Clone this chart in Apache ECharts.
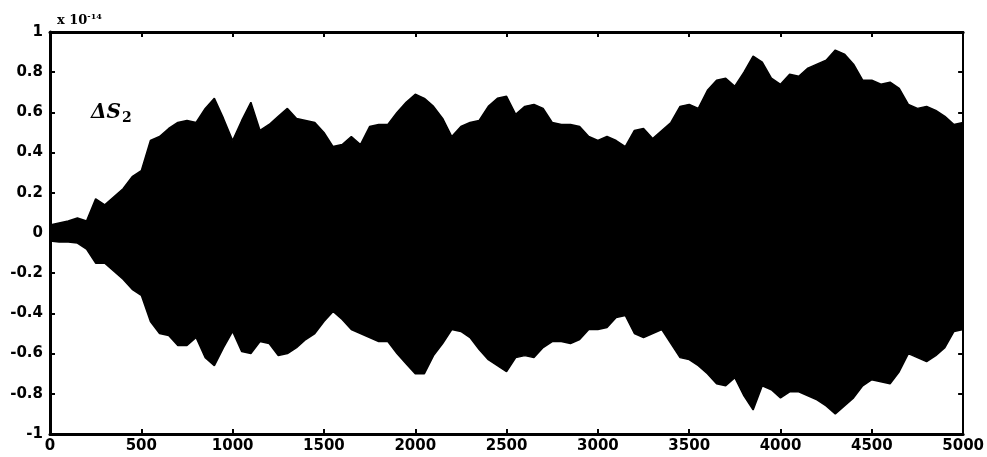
<!DOCTYPE html>
<html>
<head>
<meta charset="utf-8">
<script src="https://cdn.jsdelivr.net/npm/echarts@6/dist/echarts.min.js"></script>
<style>
  html, body { margin: 0; padding: 0; background: #fff; }
  #chart { width: 987px; height: 457px; }
</style>
</head>
<body>
<div id="chart"></div>
<script>
// Sample positions (step 50) along the horizontal axis
const steps = [
  0, 50, 100, 150, 200, 250, 300, 350, 400, 450,
  500, 550, 600, 650, 700, 750, 800, 850, 900, 950,
  1000, 1050, 1100, 1150, 1200, 1250, 1300, 1350, 1400, 1450,
  1500, 1550, 1600, 1650, 1700, 1750, 1800, 1850, 1900, 1950,
  2000, 2050, 2100, 2150, 2200, 2250, 2300, 2350, 2400, 2450,
  2500, 2550, 2600, 2650, 2700, 2750, 2800, 2850, 2900, 2950,
  3000, 3050, 3100, 3150, 3200, 3250, 3300, 3350, 3400, 3450,
  3500, 3550, 3600, 3650, 3700, 3750, 3800, 3850, 3900, 3950,
  4000, 4050, 4100, 4150, 4200, 4250, 4300, 4350, 4400, 4450,
  4500, 4550, 4600, 4650, 4700, 4750, 4800, 4850, 4900, 4950,
  5000
];

// Upper envelope of ΔS2 (units of 1e-14)
const upperEnvelope = [
  0.04, 0.05, 0.06, 0.075, 0.06, 0.17, 0.14, 0.18, 0.22, 0.28,
  0.31, 0.46, 0.48, 0.52, 0.55, 0.56, 0.55, 0.62, 0.67, 0.57,
  0.46, 0.56, 0.65, 0.51, 0.54, 0.58, 0.62, 0.57, 0.56, 0.55,
  0.50, 0.43, 0.44, 0.48, 0.44, 0.53, 0.54, 0.54, 0.60, 0.65,
  0.69, 0.67, 0.63, 0.57, 0.48, 0.53, 0.55, 0.56, 0.63, 0.67,
  0.68, 0.59, 0.63, 0.64, 0.62, 0.55, 0.54, 0.54, 0.53, 0.48,
  0.46, 0.48, 0.46, 0.43, 0.51, 0.52, 0.47, 0.51, 0.55, 0.63,
  0.64, 0.62, 0.71, 0.76, 0.77, 0.73, 0.80, 0.88, 0.85, 0.77,
  0.74, 0.79, 0.78, 0.82, 0.84, 0.86, 0.91, 0.89, 0.84, 0.76,
  0.76, 0.74, 0.75, 0.72, 0.64, 0.62, 0.63, 0.61, 0.58, 0.54,
  0.55
];

// Lower envelope of ΔS2 (units of 1e-14)
const lowerEnvelope = [
  -0.04, -0.045, -0.045, -0.05, -0.08, -0.15, -0.15, -0.19, -0.23, -0.28,
  -0.31, -0.44, -0.50, -0.51, -0.56, -0.56, -0.52, -0.62, -0.66, -0.57,
  -0.49, -0.59, -0.60, -0.54, -0.55, -0.61, -0.60, -0.57, -0.53, -0.50,
  -0.44, -0.39, -0.43, -0.48, -0.50, -0.52, -0.54, -0.54, -0.60, -0.65,
  -0.70, -0.70, -0.61, -0.55, -0.48, -0.49, -0.52, -0.58, -0.63, -0.66,
  -0.69, -0.62, -0.61, -0.62, -0.57, -0.54, -0.54, -0.55, -0.53, -0.48,
  -0.48, -0.47, -0.42, -0.41, -0.50, -0.52, -0.50, -0.48, -0.55, -0.62,
  -0.63, -0.66, -0.70, -0.75, -0.76, -0.72, -0.81, -0.88, -0.76, -0.78,
  -0.82, -0.79, -0.79, -0.81, -0.83, -0.86, -0.90, -0.86, -0.82, -0.76,
  -0.73, -0.74, -0.75, -0.69, -0.60, -0.62, -0.64, -0.61, -0.57, -0.49,
  -0.48
];

// Tick labels
const xTicks = [0, 500, 1000, 1500, 2000, 2500, 3000, 3500, 4000, 4500, 5000];
const yTicks = [-1, -0.8, -0.6, -0.4, -0.2, 0, 0.2, 0.4, 0.6, 0.8, 1];

const upperData = steps.map((s, i) => [s, upperEnvelope[i]]);
const lowerData = steps.map((s, i) => [s, lowerEnvelope[i]]);

const labelFont = {
  color: '#000',
  fontFamily: 'DejaVu Sans',
  fontWeight: 'bold',
  fontSize: 15
};
const frameLine = (w) => ({ show: true, onZero: false, lineStyle: { color: '#000', width: w } });
const innerTick = { show: true, inside: true, length: 5, lineStyle: { color: '#000', width: 2 } };

const chart = echarts.init(document.getElementById('chart'), null, { renderer: 'canvas' });

chart.setOption({
  backgroundColor: '#fff',
  animation: false,
  title: [
    {
      text: 'x 10{sup|-14}',
      left: 52,
      top: 8,
      textStyle: {
        color: '#000', fontFamily: 'DejaVu Serif', fontWeight: 'bold', fontSize: 13,
        rich: { sup: { fontSize: 8, fontWeight: 'bold', fontFamily: 'DejaVu Serif', verticalAlign: 'top', padding: [0, 0, 8, 0] } }
      }
    },
    {
      text: 'ΔS{sub|2}',
      left: 86,
      top: 96,
      textStyle: {
        color: '#000', fontFamily: 'DejaVu Serif', fontStyle: 'italic', fontWeight: 'bold', fontSize: 20,
        rich: { sub: { fontSize: 14, fontStyle: 'normal', fontWeight: 'bold', fontFamily: 'DejaVu Serif', padding: [10, 0, 0, 1] } }
      }
    }
  ],
  grid: { left: 50, right: 22, top: 32, bottom: 23, containLabel: false },
  xAxis: [
    {
      type: 'value', min: 0, max: 5000, interval: 500, position: 'bottom',
      axisLine: frameLine(3),
      axisTick: innerTick,
      splitLine: { show: false },
      axisLabel: Object.assign({ margin: 5, formatter: v => xTicks.includes(v) ? String(v) : '' }, labelFont)
    },
    {
      type: 'value', min: 0, max: 5000, interval: 500, position: 'top',
      axisLine: frameLine(3),
      axisTick: innerTick,
      splitLine: { show: false },
      axisLabel: { show: false }
    }
  ],
  yAxis: [
    {
      type: 'value', min: -1, max: 1, interval: 0.2, position: 'left',
      axisLine: frameLine(3),
      axisTick: innerTick,
      splitLine: { show: false },
      axisLabel: Object.assign({
        margin: 7,
        formatter: v => {
          const r = Math.round(v * 10) / 10;
          return yTicks.includes(r) ? String(r) : '';
        }
      }, labelFont)
    },
    {
      type: 'value', min: -1, max: 1, interval: 0.2, position: 'right',
      axisLine: frameLine(2),
      axisTick: innerTick,
      splitLine: { show: false },
      axisLabel: { show: false }
    }
  ],
  series: [
    {
      name: 'upper', type: 'line', data: upperData,
      showSymbol: false, silent: true,
      lineStyle: { color: '#000', width: 1.5 },
      areaStyle: { color: '#000', opacity: 1, origin: 0 },
      z: 1
    },
    {
      name: 'lower', type: 'line', data: lowerData,
      showSymbol: false, silent: true,
      lineStyle: { color: '#000', width: 1.5 },
      areaStyle: { color: '#000', opacity: 1, origin: 0 },
      z: 1
    }
  ]
});
</script>
</body>
</html>
